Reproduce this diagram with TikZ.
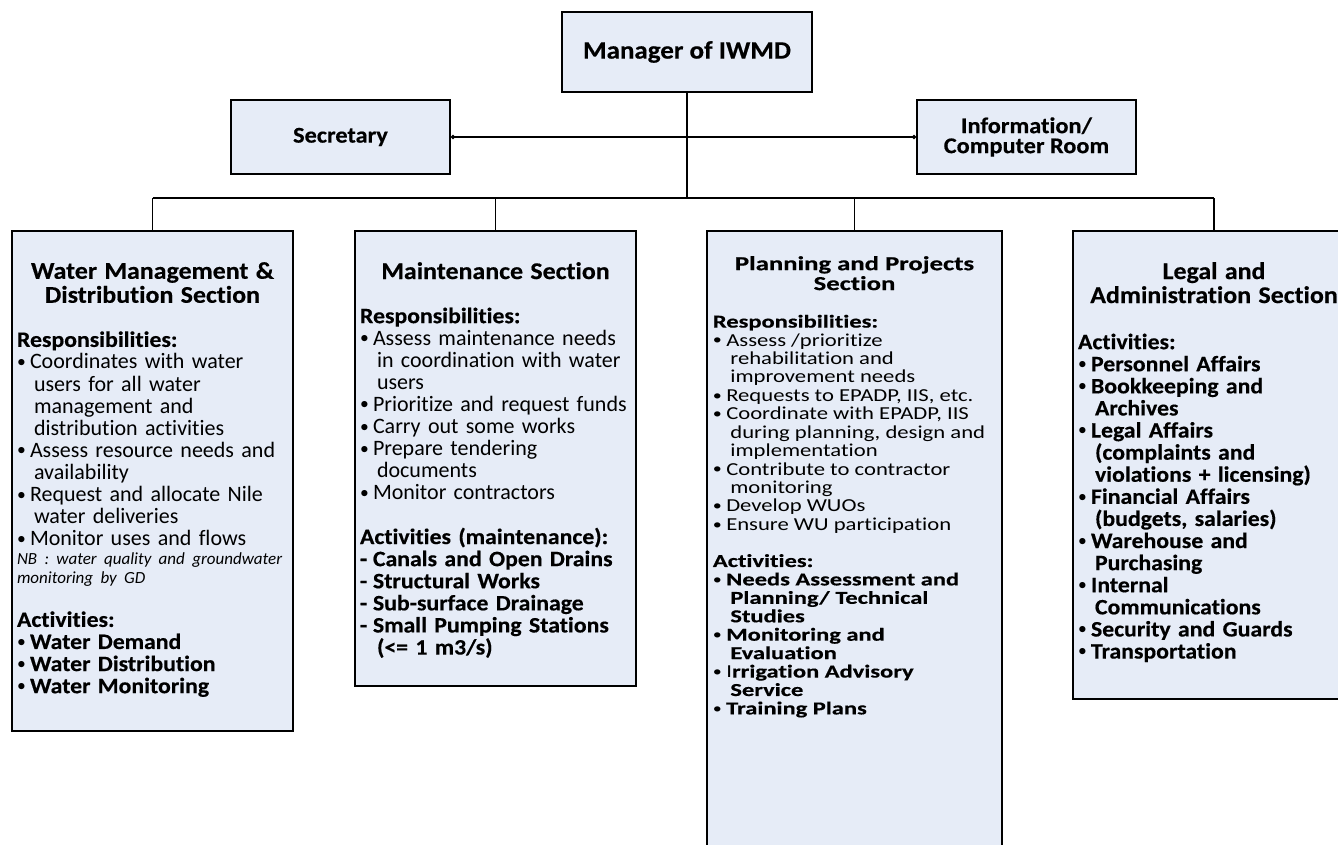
\documentclass[tikz,border=0pt]{standalone}
\usepackage{fontspec}
\setmainfont{Carlito}[Ligatures={NoCommon}, BoldFeatures={FakeStretch=1.08, FakeBold=0.4}]
\usepackage{graphicx}
\usetikzlibrary{positioning,arrows.meta}
\definecolor{boxfill}{RGB}{230,236,247}
\setlength{\parindent}{0pt}
\setlength{\parskip}{0pt}
\newcommand\bul{\makebox[13pt][l]{\mdseries\raisebox{0.15ex}{\scalebox{0.8}{\textbullet}}}}
\newcommand\dsh{\makebox[13pt][l]{-}}
\newcommand\hng{\hspace*{17pt}}
\newcommand\titlefont{\bfseries\fontsize{24}{24}\selectfont}
\newcommand\nbfont{\itshape\fontsize{17}{19}\selectfont}

\begin{document}
\begin{tikzpicture}[x=1pt,y=-1pt,
	orgbox/.style={draw, line width=1.8pt, fill=boxfill},
	topbox/.style={orgbox, align=center, minimum width=219pt, minimum height=74pt, font=\bfseries\fontsize{22.5}{20}\selectfont},
	sectbox/.style={orgbox, anchor=north},
	secttext/.style={inner sep=0pt, text width=#1, align=left, font=\fontsize{22}{22.1}\selectfont},
	conn/.style={line width=1.8pt}]
	\path[use as bounding box, fill=white] (0,0) rectangle (1338,844);

	% top of the chart
	\node[orgbox, minimum width=250pt, minimum height=80pt, font=\bfseries\fontsize{25}{26}\selectfont] (mgr) at (687,52) {Manager of IWMD};
	\node[topbox] (sec) at (340.5,137) {Secretary};
	\node[topbox] (info) at (1026.5,137) {Information/\\Computer Room};

	% the four sections
	\node[sectbox, minimum width=281pt, minimum height=500pt] (wmd) at (152.5,230) {};
	\node[sectbox, minimum width=281pt, minimum height=455pt] (mnt) at (495.5,230) {};
	\node[sectbox, minimum width=295pt, minimum height=640pt] (ppl) at (854.5,230) {};
	\node[sectbox, minimum width=282pt, minimum height=468pt] (lad) at (1214,230) {};

	\coordinate (bus) at (687,198);
	\draw[conn] (mgr.south) -- (bus);
	\draw[conn] (wmd.north |- bus) -- (lad.north |- bus);
	\foreach \s in {wmd,mnt,ppl,lad}
		\draw[conn] (\s.north |- bus) -- (\s.north);
	\draw[conn, {Circle[length=4pt]}-{Circle[length=4pt]}] (sec.east) -- (info.west);

	\node[secttext=271pt, below=32pt of wmd.north] (wmdtext) {\raggedright
		{\centering\titlefont Water Management \&\\ Distribution Section\par}
		\vspace{22pt}
		\textbf{Responsibilities:}\\
		\bul Coordinates with water\\
		\hng users for all water\\
		\hng management and\\
		\hng distribution activities\\
		\bul Assess resource needs and\\
		\hng availability\\
		\bul Request and allocate Nile\\
		\hng water deliveries\\
		\bul Monitor uses and flows\par
		{\nbfont \mbox{NB : water quality and groundwater}\\ \mbox{monitoring by GD}\par}
		\vspace{21pt}
		\textbf{Activities:}\\
		\textbf{\bul Water Demand}\\
		\textbf{\bul Water Distribution}\\
		\textbf{\bul Water Monitoring}};

	\node[secttext=271pt, below=32pt of mnt.north] (mnttext) {\raggedright
		{\centering\titlefont Maintenance Section\par}
		\vspace{22pt}
		\textbf{Responsibilities:}\\
		\bul Assess maintenance needs\\
		\hng in coordination with water\\
		\hng users\\
		\bul Prioritize and request funds\\
		\bul Carry out some works\\
		\bul Prepare tendering\\
		\hng documents\\
		\bul Monitor contractors\\[22pt]
		\textbf{Activities (maintenance):}\\
		\textbf{\dsh Canals and Open Drains}\\
		\textbf{\dsh Structural Works}\\
		\textbf{\dsh Sub-surface Drainage}\\
		\textbf{\dsh Small Pumping Stations}\\
		\hng\textbf{(<= 1 m3/s)}};

	% this one is squeezed in height
	\node[inner sep=0pt, font=\fontsize{22}{22.2}\selectfont, below=26pt of ppl.north] (ppltext) {%
		\scalebox{1.03}[0.83]{\parbox{275pt}{\raggedright
		{\centering\titlefont Planning and Projects\\ Section\par}
		\vspace{23pt}
		\textbf{Responsibilities:}\\
		\bul Assess /prioritize\\
		\hng rehabilitation and\\
		\hng improvement needs\\
		\bul Requests to EPADP, IIS, etc.\\
		\bul Coordinate with EPADP, IIS\\
		\hng during planning, design and\\
		\hng implementation\\
		\bul Contribute to contractor\\
		\hng monitoring\\
		\bul Develop WUOs\\
		\bul Ensure WU participation\\[22pt]
		\textbf{Activities:}\\
		\textbf{\bul Needs Assessment and}\\
		\hng\textbf{Planning/ Technical}\\
		\hng\textbf{Studies}\\
		\textbf{\bul Monitoring and}\\
		\hng\textbf{Evaluation}\\
		\bul I\textbf{rrigation Advisory}\\
		\hng\textbf{Service}\\
		\textbf{\bul Training Plans}}}};

	\node[secttext=272pt, below=32pt of lad.north] (ladtext) {\raggedright
		{\centering\titlefont Legal and\\ Administration Section\par}
		\vspace{24pt}
		\textbf{Activities:}\\
		\textbf{\bul Personnel Affairs}\\
		\textbf{\bul Bookkeeping and}\\
		\hng\textbf{Archives}\\
		\textbf{\bul Legal Affairs}\\
		\hng\textbf{(complaints and}\\
		\hng\textbf{violations + licensing)}\\
		\textbf{\bul Financial Affairs}\\
		\hng\textbf{(budgets, salaries)}\\
		\textbf{\bul Warehouse and}\\
		\hng\textbf{Purchasing}\\
		\textbf{\bul Internal}\\
		\hng\textbf{Communications}\\
		\textbf{\bul Security and Guards}\\
		\textbf{\bul Transportation}};
\end{tikzpicture}
\end{document}
